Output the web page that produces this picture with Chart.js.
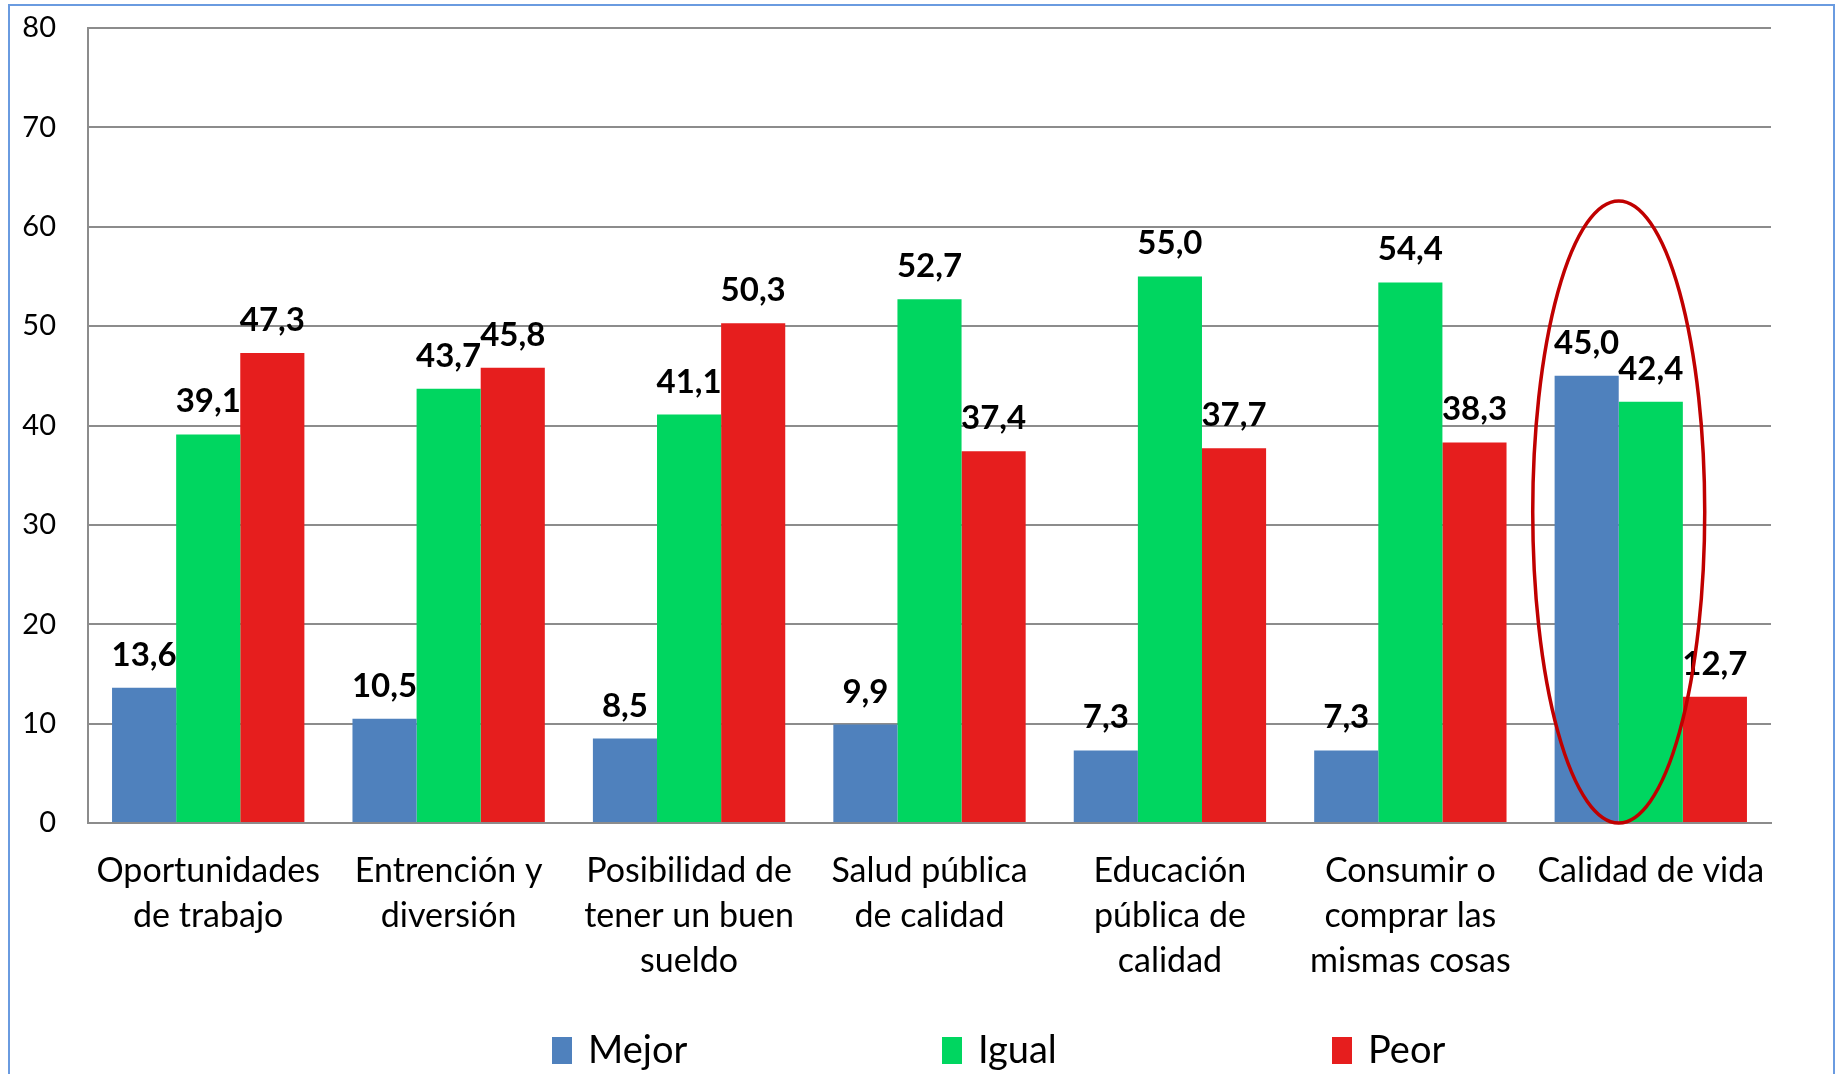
<!DOCTYPE html>
<html>
<head>
<meta charset="utf-8">
<script src="https://cdn.jsdelivr.net/npm/chart.js@4/dist/chart.umd.min.js"></script>
<style>
    html,body{margin:0;padding:0;background:#fff;overflow:hidden;}
    .frame{position:absolute;left:8px;top:4px;width:1827px;height:1200px;border:2px solid #6a9be0;box-sizing:border-box;}
    .wrap{position:absolute;left:0;top:0;width:1843px;height:1074px;}
</style>
</head>
<body>
<div class="frame"></div>
<div class="wrap"><canvas id="chart"></canvas></div>
<script>
const categories = [
    ["Oportunidades","de trabajo"],
    ["Entrención y","diversión"],
    ["Posibilidad de","tener un buen","sueldo"],
    ["Salud pública","de calidad"],
    ["Educación","pública de","calidad"],
    ["Consumir o","comprar las","mismas cosas"],
    "Calidad de vida"
];
const seriesNames = ["Mejor","Igual","Peor"];
const mejor = [13.6, 10.5, 8.5, 9.9, 7.3, 7.3, 45.0];
const igual = [39.1, 43.7, 41.1, 52.7, 55.0, 54.4, 42.4];
const peor  = [47.3, 45.8, 50.3, 37.4, 37.7, 38.3, 12.7];
const colors = ["#4f81bd","#00d660","#e61e1e"];
const yTicks = [0,10,20,30,40,50,60,70,80];

const FONT = "Lato, 'Open Sans', sans-serif";

// value labels above each bar, ellipse, and legend
const extras = {
    id:"extras",
    afterDatasetsDraw(chart){
        const ctx = chart.ctx;
        ctx.save();
        ctx.fillStyle = "#000";
        ctx.font = "bold 33px " + FONT;
        ctx.textAlign = "center";
        ctx.textBaseline = "alphabetic";
        chart.data.datasets.forEach((ds,i)=>{
            chart.getDatasetMeta(i).data.forEach((bar,j)=>{
                ctx.fillText(ds.data[j].toFixed(1).replace(".",","), bar.x, bar.y - 22);
            });
        });

        // highlight ellipse around "Calidad de vida"
        const y = chart.scales.y;
        const last = chart.getDatasetMeta(0).data[6];
        const cx = last.x + last.width/2;
        const top = y.getPixelForValue(62.6);
        const bottom = y.getPixelForValue(0);
        ctx.strokeStyle = "#c00000";
        ctx.lineWidth = 3.5;
        ctx.beginPath();
        ctx.ellipse(cx, (top+bottom)/2, 86, (bottom-top)/2, 0, 0, Math.PI*2);
        ctx.stroke();

        // legend
        ctx.font = "38px " + FONT;
        ctx.textAlign = "left";
        ctx.textBaseline = "middle";
        seriesNames.forEach((name,i)=>{
            const x = 552 + i*390;
            ctx.fillStyle = colors[i];
            ctx.fillRect(x, 1037, 20, 27);
            ctx.fillStyle = "#000";
            ctx.fillText(name, x + 36, 1051);
        });
        ctx.restore();
    }
};

const chart = new Chart(document.getElementById("chart"),{
    type:"bar",
    data:{
        labels:categories,
        datasets:[mejor,igual,peor].map((d,i)=>({
            label:seriesNames[i],
            data:d,
            backgroundColor:colors[i],
            categoryPercentage:0.8,
            barPercentage:1.0
        }))
    },
    options:{
        responsive:true,
        maintainAspectRatio:false,
        animation:false,
        layout:{padding:{top:28,right:72,left:0,bottom:0}},
        plugins:{legend:{display:false},tooltip:{enabled:false}},
        scales:{
            x:{
                grid:{display:false},
                border:{color:"#8c8c8c",width:2},
                ticks:{
                    color:"#000",
                    padding:18,
                    maxRotation:0,
                    autoSkip:false,
                    font:{family:FONT,size:34,lineHeight:1.32}
                },
                afterFit:s=>{ s.height = 251; }
            },
            y:{
                min:0,
                max:80,
                afterBuildTicks:s=>{ s.ticks = yTicks.map(v=>({value:v})); },
                grid:{color:"#8c8c8c",lineWidth:2,drawTicks:false},
                border:{color:"#8c8c8c",width:2},
                ticks:{
                    color:"#000",
                    padding:32,
                    font:{family:FONT,size:29}
                },
                afterFit:s=>{
                    s.width = 88;
                    s.paddingTop = 0;
                    s.paddingBottom = 0;
                }
            }
        }
    },
    plugins:[extras]
});
</script>
</body>
</html>
